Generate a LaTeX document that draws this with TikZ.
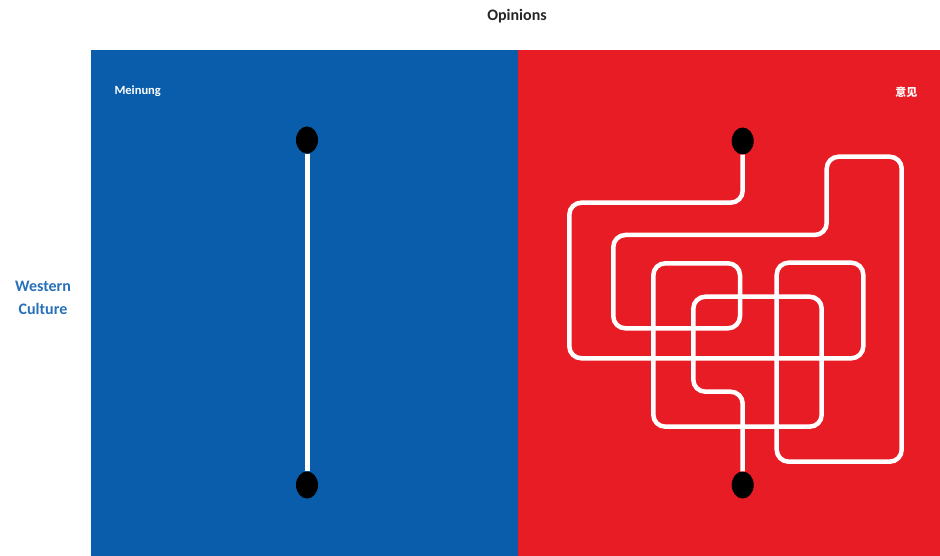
\documentclass[tikz,border=0pt]{standalone}
\usepackage{fontspec}
\setmainfont{Carlito}
\newfontfamily\cjk{Noto Sans CJK SC}
\usetikzlibrary{shapes.geometric}
\definecolor{westblue}{RGB}{10,93,170}
\definecolor{eastred}{RGB}{232,28,36}
\definecolor{labelblue}{RGB}{40,112,184}
\definecolor{titlegray}{RGB}{38,38,38}
\tikzset{
  dot/.style={ellipse,fill=black,inner sep=0pt,minimum width=22pt,minimum height=27pt},
  wire/.style={white,line width=4.5pt,line cap=butt},
  panel label/.style={white,font=\bfseries\fontsize{12.5}{14}\selectfont,anchor=west}
}

\begin{document}
\begin{tikzpicture}[x=1pt,y=-1pt]
        \useasboundingbox (0,0) rectangle (940,556);
        % the two panels
        \fill[westblue] (91,50) rectangle (518,556);
        \fill[eastred] (518,50) rectangle (940,556);
        \node[font=\bfseries\fontsize{16}{18}\selectfont,text=titlegray] (title) at (517,16) {Opinions};
        \node[font=\bfseries\fontsize{16}{23}\selectfont,text=labelblue,align=center] (culture) at (43,298) {Western\\ Culture};
        \node[panel label] (meinung) at (111,91) {Meinung};
        \node[panel label,anchor=east] (yijian) at (921,92) {\cjk\bfseries\fontsize{11}{12}\selectfont 意见};
        % straight line
        \node[dot] (ltop) at (307,140) {};
        \node[dot] (lbot) at (307,485) {};
        \draw[wire,line width=5pt] (ltop) -- (lbot);
        % tangled line
        \node[dot] (rtop) at (742.7,141) {};
        \node[dot] (rbot) at (742.7,485) {};
        \draw[wire,rounded corners=12pt] (rtop) -- (742.7,202.7) -- (569.3,202.7) -- (569.3,358.3)
          -- (863.3,358.3) -- (863.3,262.7) -- (776.7,262.7) -- (776.7,461.7) -- (901.7,461.7)
          -- (901.7,156.7) -- (826.7,156.7) -- (826.7,235) -- (613.3,235) -- (613.3,328.3)
          -- (740,328.3) -- (740,263.3) -- (653.3,263.3) -- (653.3,426.7) -- (821.7,426.7)
          -- (821.7,296.7) -- (693.3,296.7) -- (693.3,391.7) -- (742.7,391.7) -- (rbot);
      \end{tikzpicture}
\end{document}
